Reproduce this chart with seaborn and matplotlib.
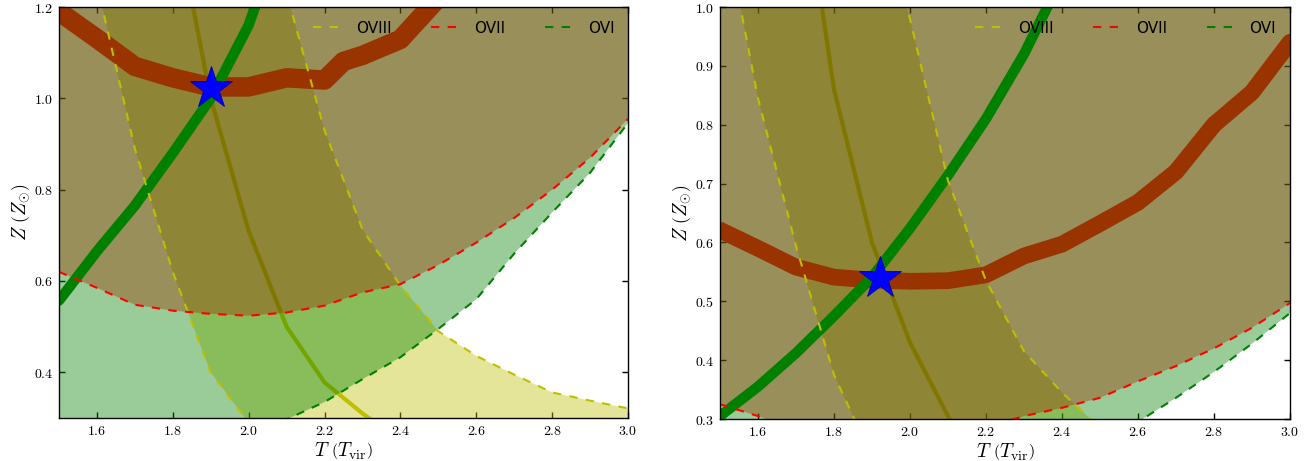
import matplotlib
matplotlib.use("Agg")
import matplotlib.pyplot as plt
from matplotlib.ticker import FuncFormatter, MultipleLocator
import seaborn as sns

# grille de température commune (T / T_vir)
T = [1.5, 1.6, 1.7, 1.8, 1.9, 2.0, 2.1, 2.2, 2.3, 2.4, 2.5, 2.6, 2.7, 2.8, 2.9, 3.0]

"""
Panneau gauche
"""
y8_lo_A = [1.62, 1.25, 0.89, 0.62, 0.40, 0.29, 0.21, 0.15, 0.11, 0.08, 0.06, 0.05, 0.04, 0.03, 0.02, 0.01]
y8_mid_A = [2.6, 2.2, 1.8, 1.43, 1.00, 0.71, 0.50, 0.378, 0.31, 0.25, 0.21, 0.18, 0.16, 0.14, 0.12, 0.11]
y8_hi_A = [3.4, 3.0, 2.6, 2.2, 1.9, 1.56, 1.23, 0.93, 0.713, 0.59, 0.49, 0.436, 0.395, 0.356, 0.338, 0.321]

r7_lo_A = [0.62, 0.585, 0.548, 0.535, 0.528, 0.524, 0.531, 0.546, 0.575, 0.593, 0.635, 0.684, 0.738, 0.80, 0.87, 0.955]
r7_hi_A = [1.9, 1.9, 1.9, 1.9, 1.9, 1.9, 1.9, 1.9, 1.9, 1.9, 1.9, 1.9, 1.9, 1.9, 1.9, 1.9]
T_r7_A = [1.5, 1.6, 1.7, 1.8, 1.9, 2.0, 2.1, 2.2, 2.25, 2.3, 2.4, 2.5, 2.6]
r7_mid_A = [1.19, 1.131, 1.07, 1.045, 1.025, 1.025, 1.045, 1.04, 1.081, 1.094, 1.129, 1.22, 1.35]

g6_lo_A = [0.08, 0.12, 0.16, 0.19, 0.22, 0.255, 0.297, 0.335, 0.385, 0.433, 0.495, 0.56, 0.66, 0.75, 0.837, 0.946]
g6_hi_A = [1.9, 1.9, 1.9, 1.9, 1.9, 1.9, 1.9, 1.9, 1.9, 1.9, 1.9, 1.9, 1.9, 1.9, 1.9, 1.9]
T_g6_A = [1.5, 1.6, 1.7, 1.8, 1.9, 2.0, 2.1]
g6_mid_A = [0.557, 0.665, 0.765, 0.88, 1.0, 1.16, 1.40]

star_A = (1.90, 1.023)

"""
Panneau droit
"""
y8_lo_B = [1.18, 0.845, 0.594, 0.375, 0.235, 0.15, 0.10, 0.07, 0.05, 0.04, 0.03, 0.02, 0.02, 0.01, 0.01, 0.01]
y8_mid_B = [2.3, 1.95, 1.30, 0.86, 0.60, 0.43, 0.305, 0.20, 0.13, 0.08, 0.05, 0.03, 0.02, 0.01, 0.01, 0.0]
y8_hi_B = [2.6, 2.2, 1.85, 1.5, 1.2, 0.98, 0.705, 0.535, 0.415, 0.345, 0.285, 0.24, 0.20, 0.17, 0.14, 0.12]

r7_lo_B = [0.325, 0.305, 0.28, 0.265, 0.26, 0.26, 0.27, 0.285, 0.305, 0.319, 0.336, 0.364, 0.39, 0.42, 0.455, 0.497]
r7_hi_B = [1.9, 1.9, 1.9, 1.9, 1.9, 1.9, 1.9, 1.9, 1.9, 1.9, 1.9, 1.9, 1.9, 1.9, 1.9, 1.9]
r7_mid_B = [0.621, 0.59, 0.558, 0.541, 0.536, 0.534, 0.535, 0.545, 0.577, 0.597, 0.632, 0.668, 0.72, 0.80, 0.855, 0.94]

g6_lo_B = [0.02, 0.04, 0.06, 0.08, 0.10, 0.12, 0.14, 0.17, 0.20, 0.23, 0.26, 0.295, 0.336, 0.38, 0.428, 0.48]
g6_hi_B = [1.9, 1.9, 1.9, 1.9, 1.9, 1.9, 1.9, 1.9, 1.9, 1.9, 1.9, 1.9, 1.9, 1.9, 1.9, 1.9]
T_g6_B = [1.5, 1.6, 1.7, 1.8, 1.9, 2.0, 2.1, 2.2, 2.3, 2.4]
g6_mid_B = [0.305, 0.355, 0.412, 0.475, 0.541, 0.624, 0.714, 0.81, 0.92, 1.05]

star_B = (1.92, 0.54)

ions = ["OVIII", "OVII", "OVI"]
cols = {"OVIII": (0.75, 0.75, 0.0), "OVII": (1.0, 0.0, 0.0), "OVI": (0.0, 0.5, 0.0)}

"""
Style
"""
sns.set_theme(style="ticks")
plt.rcParams.update({
    "font.family": ["DejaVu Sans"],
    "mathtext.fontset": "cm",
    "xtick.direction": "in", "ytick.direction": "in",
    "xtick.top": True, "ytick.right": True,
    "xtick.major.size": 4, "ytick.major.size": 4,
    "xtick.major.width": 1, "ytick.major.width": 1,
    "xtick.color": "black", "ytick.color": "black",
    "axes.edgecolor": "black", "axes.linewidth": 1.0,
    "text.color": "black", "axes.labelcolor": "black",
    "lines.scale_dashes": False,
})

fig = plt.figure(figsize=(13.1, 4.61), dpi=100)
axA = fig.add_axes([0.045, 0.0933, 0.4344, 0.8915])
axB = fig.add_axes([0.5496, 0.0911, 0.4351, 0.8937])

panels = [
    (axA, dict(y8=(y8_lo_A, y8_mid_A, y8_hi_A, T), r7=(r7_lo_A, r7_mid_A, r7_hi_A, T_r7_A),
               g6=(g6_lo_A, g6_mid_A, g6_hi_A, T_g6_A)), star_A, (0.3, 1.2), 0.2, 14, 7.5),
    (axB, dict(y8=(y8_lo_B, y8_mid_B, y8_hi_B, T), r7=(r7_lo_B, r7_mid_B, r7_hi_B, T),
               g6=(g6_lo_B, g6_mid_B, g6_hi_B, T_g6_B)), star_B, (0.3, 1.0), 0.1, 12, 7.5),
]

dash = (0, (6, 6))
for ax, d, star, ylim, ystep, lw_r, lw_g in panels:
    y_lo, y_mid, y_hi, Ty = d["y8"]
    r_lo, r_mid, r_hi, Tr = d["r7"]
    g_lo, g_mid, g_hi, Tg = d["g6"]

    # remplissages (alpha 0.4) + courbes centrales, empilés dans l'ordre
    ax.fill_between(T, y_lo, y_hi, color=cols["OVIII"], alpha=0.4, lw=0, zorder=1.0)
    sns.lineplot(x=Ty, y=y_mid, ax=ax, color=cols["OVIII"], lw=3, zorder=1.1)
    ax.fill_between(T, r_lo, r_hi, color=cols["OVII"], alpha=0.4, lw=0, zorder=1.2)
    sns.lineplot(x=Tr, y=r_mid, ax=ax, color=cols["OVII"], lw=lw_r, zorder=1.3)
    ax.fill_between(T, g_lo, g_hi, color=cols["OVI"], alpha=0.4, lw=0, zorder=1.4)
    sns.lineplot(x=Tg, y=g_mid, ax=ax, color=cols["OVI"], lw=lw_g, zorder=1.5)

    # bornes en tirets
    sns.lineplot(x=T, y=y_lo, ax=ax, color=cols["OVIII"], lw=1.5, linestyle=dash, zorder=2)
    sns.lineplot(x=T, y=y_hi, ax=ax, color=cols["OVIII"], lw=1.5, linestyle=dash, zorder=2, label="OVIII")
    sns.lineplot(x=T, y=r_lo, ax=ax, color=cols["OVII"], lw=1.5, linestyle=dash, zorder=2, label="OVII")
    sns.lineplot(x=T, y=g_lo, ax=ax, color=cols["OVI"], lw=1.5, linestyle=dash, zorder=2, label="OVI")

    ax.plot([star[0]], [star[1]], marker="*", ms=32, color="blue", mec="#0000aa", mew=0.6, zorder=3)

    ax.set_xlim(1.5, 3.0)
    ax.set_ylim(*ylim)
    ax.xaxis.set_major_locator(MultipleLocator(0.2))
    ax.yaxis.set_major_locator(MultipleLocator(ystep))
    ax.xaxis.set_major_formatter(FuncFormatter(lambda v, p: "" if v < 1.55 else f"${v:.1f}$"))
    ax.yaxis.set_major_formatter(FuncFormatter(lambda v, p: f"${v:.1f}$"))
    ax.tick_params(labelsize=10, pad=4)
    ax.set_xlabel(r"$T\ \left(T_{\rm vir}\right)$", fontsize=14, labelpad=2)
    ax.set_ylabel(r"$Z\ \left(Z_{\odot}\right)$", fontsize=14, labelpad=1)
    ax.set_facecolor("white")
    ax.legend(loc="upper right", ncol=3, frameon=False, fontsize=11, handlelength=2,
              handletextpad=0.8, columnspacing=2.6, borderaxespad=0.5)

fig.savefig("out.png", dpi=100)
